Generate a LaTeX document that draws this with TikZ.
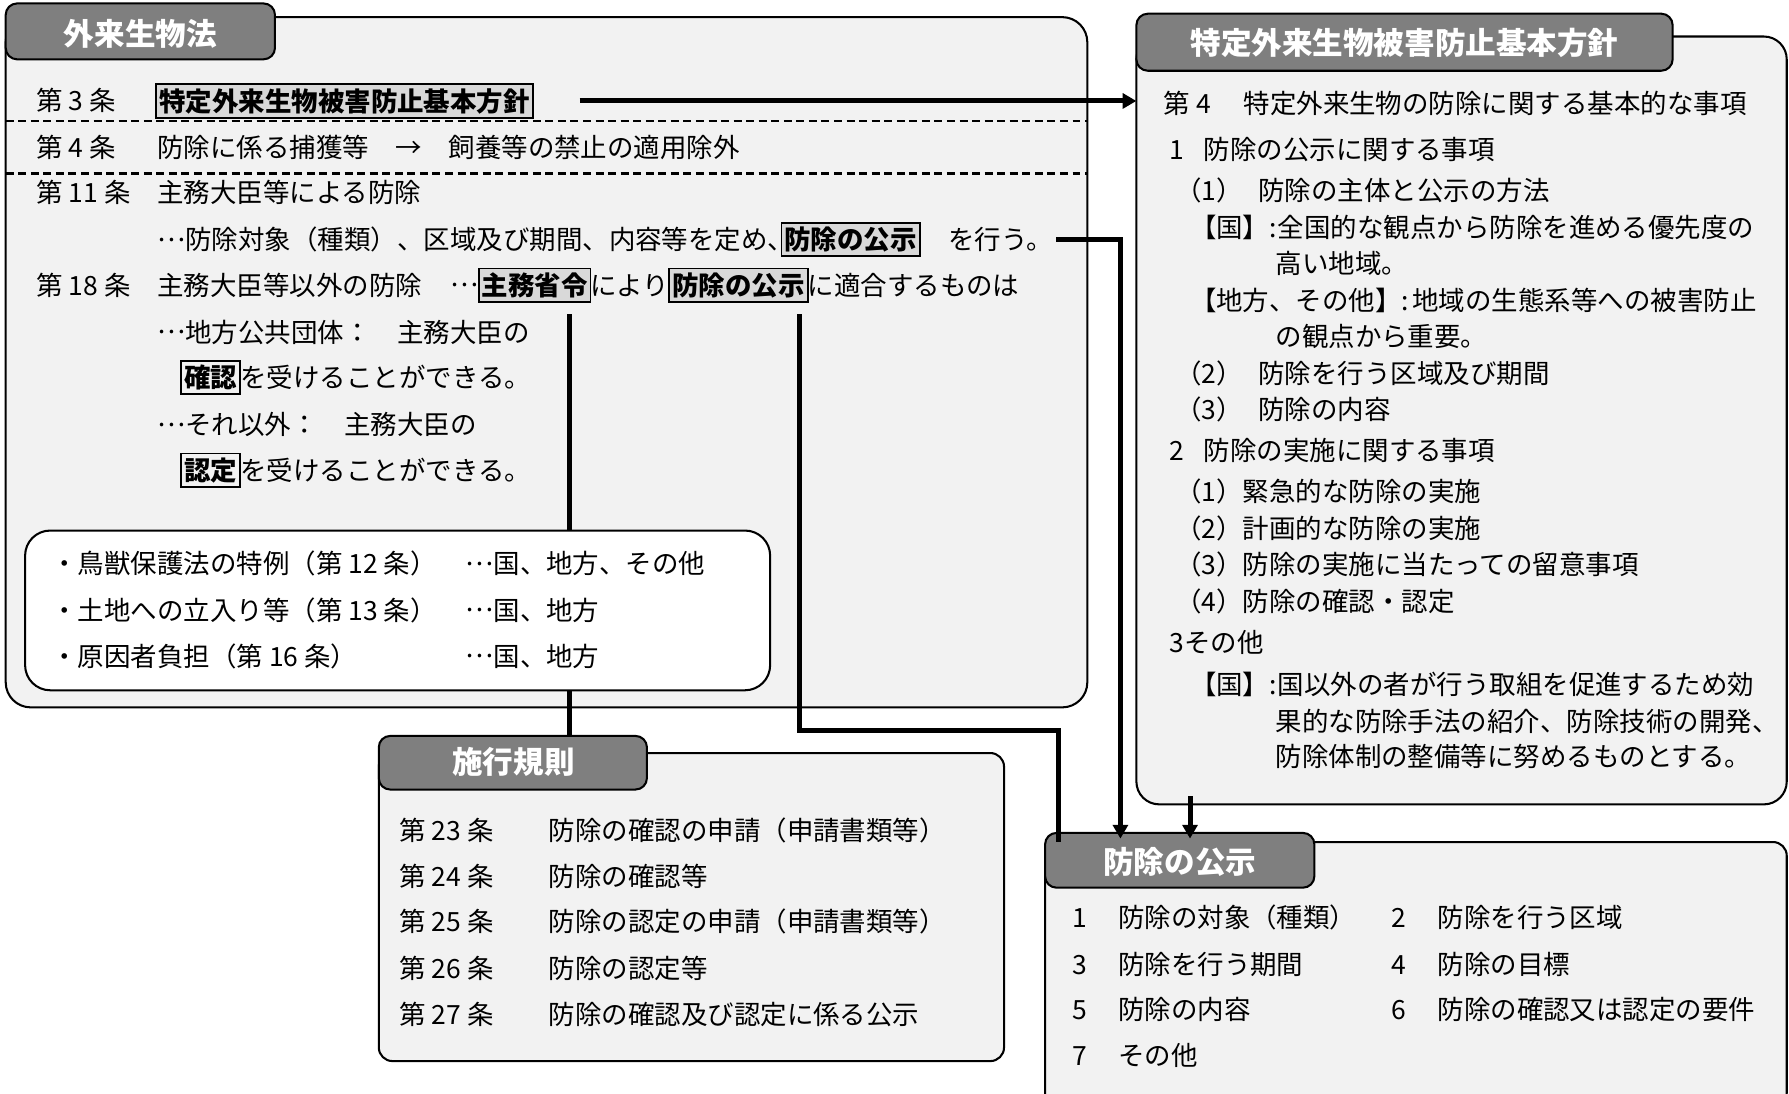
\documentclass[tikz,border=0pt]{standalone}
\usepackage{fontspec}
\setmainfont{Noto Sans CJK JP}
\usetikzlibrary{arrows.meta,fit,calc}
\definecolor{panelgray}{HTML}{F2F2F2}
\definecolor{tabgray}{HTML}{7F7F7F}
\definecolor{hlgray}{HTML}{D9D9D9}
\newcommand\jdots{\raisebox{0.32em}{…}}
\begin{document}
\begin{tikzpicture}[x=0.5pt,y=-0.5pt,
  panel/.style={draw=black, line width=0.9pt, fill=panelgray, inner sep=0pt, outer sep=0pt},
  tabbox/.style={draw=black, line width=0.9pt, fill=tabgray, rounded corners=5pt, inner sep=0pt, outer sep=0pt},
  tabtext/.style={text=white, font=\fontsize{13.4}{16}\selectfont\bfseries, inner sep=0pt, text height=11.8pt, text depth=1.6pt},
  txt/.style={anchor=west, inner sep=0pt, outer sep=0pt, font=\fontsize{11.6}{14}\selectfont, text height=10.2pt, text depth=1.4pt},
  hl/.style={txt, draw=black, line width=0.8pt, fill=hlgray, inner xsep=1.3pt, inner ysep=1.5pt, font=\fontsize{11.6}{14}\selectfont\bfseries},
  hlw/.style={hl, fill=none},
  conn/.style={line width=2.2pt, draw=black},
  arr/.style={conn, -{Triangle[length=6pt,width=6.5pt]}},
  sepline/.style={dash pattern=on 3.5pt off 2pt, line width=1pt},
]
\useasboundingbox[fill=white] (0,0) rectangle (1568,958);

% ---------- panel bodies ----------
\node[panel, rounded corners=11pt, fit={(5,15)(953,620)}] (law) {};
\node[panel, rounded corners=10pt, fit={(996,32)(1566,705)}] (kihon) {};
\node[panel, rounded corners=6pt, fit={(332,660)(880,930)}] (sekou) {};
\node[panel, rounded corners=6pt, fit={(916,738)(1566,970)}] (kouji) {};

% ---------- tabs ----------
\node[tabbox, fit={(5,3)(241,52)}] (lawtab) {};
\node[tabtext] at (123,30) {外来生物法};
\node[tabbox, fit={(996,12)(1466,62)}] (kihontab) {};
\node[tabtext] at (1231,38) {特定外来生物被害防止基本方針};
\node[tabbox, fit={(332,645)(567,692)}] (sekoutab) {};
\node[tabtext] at (450,668) {施行規則};
\node[tabbox, fit={(916,730)(1152,778)}] (koujitab) {};
\node[tabtext] at (1034,755) {防除の公示};

% ---------- 外来生物法 texts ----------
\node[txt] at (32,88) {第 3 条};
\node[hl] (hoshin) at (137,88.5) {特定外来生物被害防止基本方針};
\draw[sepline] (5,106) -- (953,106);
\node[txt] at (32,129) {第 4 条};
\node[txt] at (138,129) {防除に係る捕獲等　→　飼養等の禁止の適用除外};
\draw[sepline] (5,152) -- (953,152);
\node[txt] at (32,169) {第 11 条};
\node[txt] at (138,169) {主務大臣等による防除};
\node[txt] (l11) at (138,210) {\jdots 防除対象（種類）、区域及び期間、内容等を定め、};
\node[hl] (kouji1) at (685,210) {防除の公示};
\node[txt] (okonau) at ([xshift=12.5pt]kouji1.east) {を行う。};
\node[txt] at (32,250) {第 18 条};
\node[txt] at (138,250) {主務大臣等以外の防除};
\node[txt] (dots) at (395,250) {\jdots};
\node[hl] (shourei) at (dots.east) {主務省令};
\node[txt] (niyori) at (shourei.east) {により};
\node[hl] (kouji2) at (niyori.east) {防除の公示};
\node[txt] at (kouji2.east) {に適合するものは};
\node[txt] at (138,291) {\jdots 地方公共団体：　主務大臣の};
\node[hlw] (kakunin) at (159,331) {確認};
\node[txt] at (kakunin.east) {を受けることができる。};
\node[txt] at (138,372) {\jdots それ以外：　主務大臣の};
\node[hlw] (nintei) at (159,412) {認定};
\node[txt] at (nintei.east) {を受けることができる。};

% ---------- connectors ----------
\coordinate (a1) at ($(hoshin.east)+(41,0)$);
\draw[arr] (a1) -- (a1 -| kihon.west);
\draw[arr] ($(okonau.east)+(3,0)$) -| ($(koujitab.north west)+(66,5)$);
\draw[arr] ($(kihon.south west)+(47,-7)$) -- ($(koujitab.north west)+(127,5)$);
\coordinate (p4) at ($(kouji2.south east)+(-7,11)$);
\draw[conn] (p4) |- ($(koujitab.north west)+(12,-90)$) -- ($(koujitab.north west)+(12,8)$);
\coordinate (p5) at ($(shourei.south east)+(-18,11)$);
\draw[conn] (p5) -- (p5 |- sekoutab.north);

% ---------- inner white box ----------
\node[draw=black, line width=0.9pt, fill=white, rounded corners=11pt, inner sep=0pt, fit={(22,465)(675,605)}] (inner) {};
\node[txt] at (45,494) {・鳥獣保護法の特例（第 12 条）};
\node[txt] at (408,494) {\jdots 国、地方、その他};
\node[txt] at (45,535) {・土地への立入り等（第 13 条）};
\node[txt] at (408,535) {\jdots 国、地方};
\node[txt] at (45,575) {・原因者負担（第 16 条）};
\node[txt] at (408,575) {\jdots 国、地方};

% ---------- 施行規則 texts ----------
\node[txt] at (350,728) {第 23 条};
\node[txt] at (481,728) {防除の確認の申請（申請書類等）};
\node[txt] at (350,768) {第 24 条};
\node[txt] at (481,768) {防除の確認等};
\node[txt] at (350,808) {第 25 条};
\node[txt] at (481,808) {防除の認定の申請（申請書類等）};
\node[txt] at (350,849) {第 26 条};
\node[txt] at (481,849) {防除の認定等};
\node[txt] at (350,889) {第 27 条};
\node[txt] at (481,889) {防除の確認及び認定に係る公示};

% ---------- 基本方針 texts ----------
\node[txt] at (1020,91) {第 4};
\node[txt] at (1090,91) {特定外来生物の防除に関する基本的な事項};
\node[txt] at (1025,131) {1};
\node[txt] at (1055,131) {防除の公示に関する事項};
\node[txt] at (1030,167) {（1）};
\node[txt] at (1103,167) {防除の主体と公示の方法};
\node[txt] at (1043,199) {【国】:};
\node[txt] at (1120,199) {全国的な観点から防除を進める優先度の};
\node[txt] at (1118,231) {高い地域。};
\node[txt] at (1043,263) {【地方、その他】:};
\node[txt] at (1238,263) {地域の生態系等への被害防止};
\node[txt] at (1118,295) {の観点から重要。};
\node[txt] at (1030,327) {（2）};
\node[txt] at (1103,327) {防除を行う区域及び期間};
\node[txt] at (1030,359) {（3）};
\node[txt] at (1103,359) {防除の内容};
\node[txt] at (1025,395) {2};
\node[txt] at (1055,395) {防除の実施に関する事項};
\node[txt] at (1030,431) {（1）緊急的な防除の実施};
\node[txt] at (1030,463) {（2）計画的な防除の実施};
\node[txt] at (1030,495) {（3）防除の実施に当たっての留意事項};
\node[txt] at (1030,527) {（4）防除の確認・認定};
\node[txt] at (1025,563) {3その他};
\node[txt] at (1043,600) {【国】:};
\node[txt] at (1120,600) {国以外の者が行う取組を促進するため効};
\node[txt] at (1118,632) {果的な防除手法の紹介、防除技術の開発、};
\node[txt] at (1118,663) {防除体制の整備等に努めるものとする。};

% ---------- 防除の公示 texts ----------
\node[txt] at (940,804) {1};
\node[txt] at (980,804) {防除の対象（種類）};
\node[txt] at (1220,804) {2};
\node[txt] at (1260,804) {防除を行う区域};
\node[txt] at (940,845) {3};
\node[txt] at (980,845) {防除を行う期間};
\node[txt] at (1220,845) {4};
\node[txt] at (1260,845) {防除の目標};
\node[txt] at (940,885) {5};
\node[txt] at (980,885) {防除の内容};
\node[txt] at (1220,885) {6};
\node[txt] at (1260,885) {防除の確認又は認定の要件};
\node[txt] at (940,925) {7};
\node[txt] at (980,925) {その他};
\end{tikzpicture}
\end{document}
